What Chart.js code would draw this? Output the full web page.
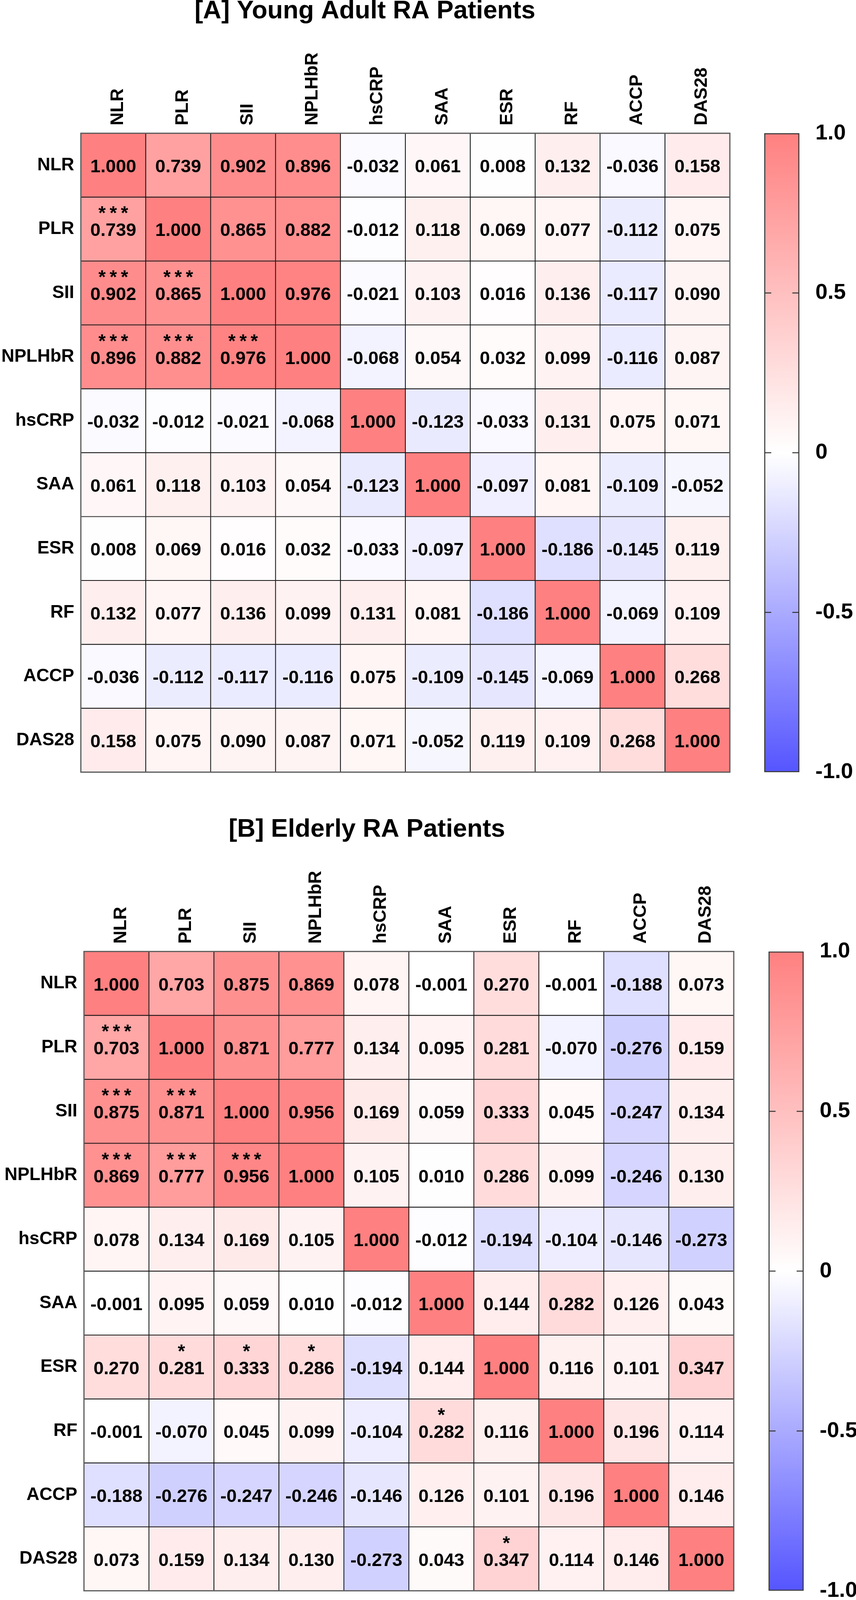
<!DOCTYPE html>
<html>
<head>
<meta charset="utf-8">
<title>RA correlation heatmaps</title>
<script src="https://cdn.jsdelivr.net/npm/chart.js@4.4.1/dist/chart.umd.min.js"></script>
<style>
  html, body { margin: 0; padding: 0; background: #fff; }
  body { width: 2192px; height: 4167px; position: relative; overflow: hidden; }
  canvas { position: absolute; }
</style>
</head>
<body>
<canvas id="heatA"></canvas>
<canvas id="barA"></canvas>
<canvas id="heatB"></canvas>
<canvas id="barB"></canvas>
<script>
const markers = ['NLR', 'PLR', 'SII', 'NPLHbR', 'hsCRP', 'SAA', 'ESR', 'RF', 'ACCP', 'DAS28'];

// [A] young adult RA patients, rows/cols in markers order
const youngCorr = [
    [1.000, 0.739, 0.902, 0.896, -0.032, 0.061, 0.008, 0.132, -0.036, 0.158],
    [0.739, 1.000, 0.865, 0.882, -0.012, 0.118, 0.069, 0.077, -0.112, 0.075],
    [0.902, 0.865, 1.000, 0.976, -0.021, 0.103, 0.016, 0.136, -0.117, 0.090],
    [0.896, 0.882, 0.976, 1.000, -0.068, 0.054, 0.032, 0.099, -0.116, 0.087],
    [-0.032, -0.012, -0.021, -0.068, 1.000, -0.123, -0.033, 0.131, 0.075, 0.071],
    [0.061, 0.118, 0.103, 0.054, -0.123, 1.000, -0.097, 0.081, -0.109, -0.052],
    [0.008, 0.069, 0.016, 0.032, -0.033, -0.097, 1.000, -0.186, -0.145, 0.119],
    [0.132, 0.077, 0.136, 0.099, 0.131, 0.081, -0.186, 1.000, -0.069, 0.109],
    [-0.036, -0.112, -0.117, -0.116, 0.075, -0.109, -0.145, -0.069, 1.000, 0.268],
    [0.158, 0.075, 0.090, 0.087, 0.071, -0.052, 0.119, 0.109, 0.268, 1.000]
];

// [B] elderly RA patients
const elderlyCorr = [
    [1.000, 0.703, 0.875, 0.869, 0.078, -0.001, 0.270, -0.001, -0.188, 0.073],
    [0.703, 1.000, 0.871, 0.777, 0.134, 0.095, 0.281, -0.070, -0.276, 0.159],
    [0.875, 0.871, 1.000, 0.956, 0.169, 0.059, 0.333, 0.045, -0.247, 0.134],
    [0.869, 0.777, 0.956, 1.000, 0.105, 0.010, 0.286, 0.099, -0.246, 0.130],
    [0.078, 0.134, 0.169, 0.105, 1.000, -0.012, -0.194, -0.104, -0.146, -0.273],
    [-0.001, 0.095, 0.059, 0.010, -0.012, 1.000, 0.144, 0.282, 0.126, 0.043],
    [0.270, 0.281, 0.333, 0.286, -0.194, 0.144, 1.000, 0.116, 0.101, 0.347],
    [-0.001, -0.070, 0.045, 0.099, -0.104, 0.282, 0.116, 1.000, 0.196, 0.114],
    [-0.188, -0.276, -0.247, -0.246, -0.146, 0.126, 0.101, 0.196, 1.000, 0.146],
    [0.073, 0.159, 0.134, 0.130, -0.273, 0.043, 0.347, 0.114, 0.146, 1.000]
];

// significance marks: [row, column, mark]
const youngStars = [
    ['PLR', 'NLR', '***'], ['SII', 'NLR', '***'], ['SII', 'PLR', '***'],
    ['NPLHbR', 'NLR', '***'], ['NPLHbR', 'PLR', '***'], ['NPLHbR', 'SII', '***']
];
const elderlyStars = [
    ['PLR', 'NLR', '***'], ['SII', 'NLR', '***'], ['SII', 'PLR', '***'],
    ['NPLHbR', 'NLR', '***'], ['NPLHbR', 'PLR', '***'], ['NPLHbR', 'SII', '***'],
    ['ESR', 'PLR', '*'], ['ESR', 'SII', '*'], ['ESR', 'NPLHbR', '*'],
    ['RF', 'SAA', '*'], ['DAS28', 'ESR', '*']
];

const scaleTicks = [-1, -0.5, 0, 0.5, 1];
const scaleTickLabels = ['-1.0', '-0.5', '0', '0.5', '1.0'];

const FONT = '"Liberation Sans", Arial, Helvetica, sans-serif';
Chart.defaults.font.family = FONT;
Chart.defaults.color = '#000';

// the figure is laid out for 4167px; squeeze vertically if the viewport is shorter
const PAGE_H = 4167;
const k = Math.min(1, (window.innerHeight || PAGE_H) / PAGE_H);
document.body.style.height = Math.round(PAGE_H * k) + 'px';

function place(id, left, top, width, height) {
    const c = document.getElementById(id);
    c.width = width;
    c.height = height;
    c.style.left = left + 'px';
    c.style.top = top + 'px';
    c.style.width = width + 'px';
    c.style.height = height + 'px';
    return c;
}

function corrColor(v) {
    if (v >= 0) {
        const g = Math.round(255 - 127 * v);
        return `rgb(255,${g},${g})`;
    }
    const rg = Math.round(255 + 170 * v);
    return `rgb(${rg},${rg},255)`;
}

// keep label overflow from moving the plot area
function noOverflow(s) {
    s.paddingTop = 0;
    s.paddingBottom = 0;
    s.paddingLeft = 0;
    s.paddingRight = 0;
}

// values + stars inside each cell, frame round the grid
const cellText = {
    id: 'cellText',
    afterDatasetsDraw(chart, args, opts) {
        const ctx = chart.ctx;
        ctx.save();
        ctx.fillStyle = '#000';
        ctx.textAlign = 'center';
        ctx.textBaseline = 'alphabetic';
        chart.data.datasets.forEach((ds, r) => {
            chart.getDatasetMeta(r).data.forEach((bar, c) => {
                const cy = (bar.y + bar.base) / 2;
                ctx.font = `bold 47px ${FONT}`;
                ctx.letterSpacing = '0px';
                ctx.fillText(ds.corr[c].toFixed(3), bar.x, cy + 18);
                const mark = opts.stars.find(s => s[0] === markers[r] && s[1] === markers[c]);
                if (mark) {
                    ctx.font = `bold 48px ${FONT}`;
                    ctx.letterSpacing = '10px';
                    ctx.fillText(mark[2], bar.x + 5, cy - 25);
                }
            });
        });
        const a = chart.chartArea;
        ctx.strokeStyle = '#5a5a5a';
        ctx.lineWidth = 3;
        ctx.strokeRect(a.left, a.top, a.right - a.left, a.bottom - a.top);
        ctx.restore();
    }
};

const TITLE_H = 65 * 0.9;

function heatmap(id, title, corr, stars, box) {
    const cTop = Math.round(box.top * k);
    const gTop = box.gridTop * k - cTop;
    const gBot = box.gridBottom * k - cTop;
    const h = Math.ceil(gBot + 19);
    const canvas = place(id, 0, cTop, box.width, h);

    new Chart(canvas, {
        type: 'bar',
        data: {
            labels: markers,
            datasets: corr.map((row, r) => ({
                label: markers[r],
                data: row.map(() => 1),
                corr: row,
                xAxisID: 'x',
                yAxisID: 'y',
                backgroundColor: row.map(corrColor),
                borderColor: '#111',
                borderWidth: 1.4,
                borderSkipped: false,
                barPercentage: 1,
                categoryPercentage: 1
            }))
        },
        options: {
            responsive: false,
            animation: false,
            layout: { padding: { top: 0, right: box.width - box.gridRight, bottom: h - gBot, left: 0 } },
            plugins: {
                legend: { display: false },
                tooltip: { enabled: false },
                title: {
                    display: true,
                    text: title,
                    color: '#000',
                    font: { size: 65, weight: 'bold', lineHeight: 0.9 },
                    padding: { top: 0, bottom: 0 }
                },
                cellText: { stars: stars }
            },
            scales: {
                x: {
                    position: 'top',
                    stacked: true,
                    grid: { display: false },
                    border: { display: false },
                    ticks: {
                        autoSkip: false,
                        minRotation: 90,
                        maxRotation: 90,
                        padding: 12,
                        labelOffset: 67,
                        font: { size: 46, weight: 'bold' }
                    },
                    afterFit: s => { s.height = gTop - TITLE_H; noOverflow(s); }
                },
                y: { display: false, stacked: true, reverse: true, min: 0, max: markers.length },
                rows: {
                    type: 'category',
                    labels: markers,
                    position: 'left',
                    offset: true,
                    grid: { display: false },
                    border: { display: false },
                    ticks: { padding: 9, font: { size: 46, weight: 'bold' } },
                    afterFit: s => { s.width = box.gridLeft; noOverflow(s); }
                }
            }
        },
        plugins: [cellText]
    });
}

// short inner tick marks on both sides of the colour bar
const innerTicks = {
    id: 'innerTicks',
    afterDatasetsDraw(chart) {
        const ctx = chart.ctx;
        const a = chart.chartArea;
        const ys = chart.scales.y;
        ctx.save();
        ctx.strokeStyle = '#333';
        ctx.lineWidth = 2.5;
        scaleTicks.slice(1, -1).forEach(v => {
            const y = ys.getPixelForValue(v);
            ctx.beginPath();
            ctx.moveTo(a.left + 2, y); ctx.lineTo(a.left + 18, y);
            ctx.moveTo(a.right - 18, y); ctx.lineTo(a.right - 2, y);
            ctx.stroke();
        });
        ctx.restore();
    }
};

function colorBar(id, left, gridTop, gridBottom) {
    const cTop = Math.round(gridTop * k - 47);
    const gTop = gridTop * k - cTop;
    const gBot = gridBottom * k - cTop;
    const h = Math.ceil(gBot + 24);
    const width = 2192 - left;
    const canvas = place(id, left, cTop, width, h);

    new Chart(canvas, {
        type: 'bar',
        data: {
            labels: [''],
            datasets: [{
                data: [[scaleTicks[0], scaleTicks[scaleTicks.length - 1]]],
                backgroundColor: context => {
                    const chart = context.chart;
                    if (!chart.chartArea) { return '#fff'; }
                    const ys = chart.scales.y;
                    const g = chart.ctx.createLinearGradient(0, ys.getPixelForValue(-1), 0, ys.getPixelForValue(1));
                    g.addColorStop(0, corrColor(-1));
                    g.addColorStop(0.5, corrColor(0));
                    g.addColorStop(1, corrColor(1));
                    return g;
                },
                borderColor: '#3a3a3a',
                borderWidth: 3,
                borderSkipped: false,
                barPercentage: 1,
                categoryPercentage: 1
            }]
        },
        options: {
            responsive: false,
            animation: false,
            layout: { padding: { top: gTop, right: 0, bottom: h - gBot, left: 0 } },
            plugins: { legend: { display: false }, tooltip: { enabled: false } },
            scales: {
                x: { display: false },
                y: {
                    position: 'right',
                    min: -1,
                    max: 1,
                    grid: { display: false },
                    border: { display: false },
                    afterBuildTicks: s => { s.ticks = scaleTicks.map(v => ({ value: v })); },
                    ticks: {
                        padding: 33,
                        font: { size: 56, weight: 'bold' },
                        callback: (v, i) => scaleTickLabels[i]
                    },
                    afterFit: s => { s.width = width - 90; noOverflow(s); }
                }
            }
        },
        plugins: [innerTicks]
    });
}

heatmap('heatA', '[A] Young Adult RA Patients', youngCorr, youngStars,
    { top: 0, width: 2076, gridLeft: 207, gridRight: 1869, gridTop: 347, gridBottom: 2011 });
colorBar('barA', 1957, 347, 2011);
heatmap('heatB', '[B] Elderly RA Patients', elderlyCorr, elderlyStars,
    { top: 2131, width: 2076, gridLeft: 215, gridRight: 1879, gridTop: 2478, gridBottom: 4143 });
colorBar('barB', 1968, 2478, 4143);
</script>
</body>
</html>
